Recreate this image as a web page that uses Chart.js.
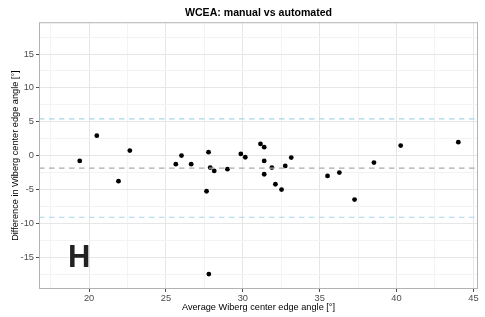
<!DOCTYPE html>
<html>
<head>
<meta charset="utf-8">
<script src="https://cdn.jsdelivr.net/npm/chart.js@4.4.1/dist/chart.umd.min.js"></script>
<style>
  html, body { margin: 0; padding: 0; background: #fff; }
  #wrap { width: 485px; height: 317px; }
</style>
</head>
<body>
<div id="wrap"><canvas id="chart"></canvas></div>
<script>
// average angle (x) and difference (y)
const avgAngle = [19.39, 20.5, 21.91, 22.65, 25.64, 26.01, 26.64, 27.77, 27.64, 27.79,
  27.88, 28.14, 29.0, 29.87, 30.16, 31.15, 31.39, 31.39, 31.39, 31.89,
  32.12, 32.52, 32.76, 33.15, 35.51, 36.28, 37.27, 38.53, 40.27, 44.02];
const diffAngle = [-0.78, 2.95, -3.78, 0.74, -1.27, 0.0, -1.27, 0.5, -5.26, -17.5,
  -1.77, -2.26, -2.0, 0.25, -0.24, 1.73, 1.24, -0.78, -2.75, -1.77,
  -4.23, -5.02, -1.52, -0.29, -3.0, -2.51, -6.5, -1.03, 1.48, 1.98];

const meanDiff = -1.86;
const upperLimit = 5.42;
const lowerLimit = -9.1;

const xLimits = [16.74, 45.3];
const yLimits = [-19.7, 19.7];
const xTicks = [17.5, 20, 22.5, 25, 27.5, 30, 32.5, 35, 37.5, 40, 42.5, 45];
const yTicks = [-17.5, -15, -12.5, -10, -7.5, -5, -2.5, 0, 2.5, 5, 7.5, 10, 12.5, 15, 17.5];

const panelLabel = "H";
const panelLabelPos = { x: 19.35, y: -15.1 };

const points = avgAngle.map((x, i) => ({ x: x, y: diffAngle[i] }));
const hline = (v) => [{ x: xLimits[0], y: v }, { x: xLimits[1], y: v }];

const isMajor = (v) => Math.abs(v % 5) < 1e-9;
const FONT = "'Liberation Sans', Arial, sans-serif";

const panelPlugin = {
  id: "panel",
  afterDatasetsDraw(chart) {
    const { ctx, chartArea: a, scales } = chart;
    ctx.save();
    ctx.strokeStyle = "#b3b3b3";
    ctx.lineWidth = 1;
    ctx.strokeRect(a.left + 0.5, a.top + 0.5, a.right - a.left - 1, a.bottom - a.top - 1);
    ctx.fillStyle = "#222222";
    ctx.font = "bold 31px " + FONT;
    ctx.textAlign = "center";
    ctx.textBaseline = "middle";
    ctx.fillText(panelLabel, scales.x.getPixelForValue(panelLabelPos.x),
      scales.y.getPixelForValue(panelLabelPos.y) + 1);
    ctx.restore();
  }
};

new Chart(document.getElementById("chart"), {
  type: "scatter",
  data: {
    datasets: [
      {
        type: "line", data: hline(upperLimit), borderColor: "#a9d6e8", borderWidth: 1.2,
        borderDash: [5.5, 4.5], pointRadius: 0, fill: false
      },
      {
        type: "line", data: hline(lowerLimit), borderColor: "#a9d6e8", borderWidth: 1.2,
        borderDash: [5.5, 4.5], pointRadius: 0, fill: false
      },
      {
        type: "line", data: hline(meanDiff), borderColor: "#aaaaaa", borderWidth: 1.2,
        borderDash: [5.5, 4.5], pointRadius: 0, fill: false
      },
      {
        data: points, backgroundColor: "#000", borderColor: "#000",
        pointRadius: 2.4, borderWidth: 0
      }
    ]
  },
  options: {
    responsive: true,
    maintainAspectRatio: false,
    animation: false,
    layout: { padding: { left: 0, right: 7, top: 0, bottom: 0 } },
    plugins: {
      legend: { display: false },
      tooltip: { enabled: false },
      title: {
        display: true,
        fullSize: false,
        text: "WCEA: manual vs automated",
        color: "#000",
        font: { family: FONT, size: 10.6, weight: "bold" },
        padding: { top: 6.5, bottom: 3 }
      }
    },
    scales: {
      x: {
        type: "linear",
        min: xLimits[0],
        max: xLimits[1],
        afterBuildTicks: (s) => { s.ticks = xTicks.map(v => ({ value: v })); },
        afterFit: (s) => { s.height = 28; },
        border: { display: false },
        grid: {
          color: (c) => isMajor(c.tick.value) ? "#e6e6e6" : "#f3f3f3",
          tickColor: (c) => isMajor(c.tick.value) ? "#4d4d4d" : "rgba(0,0,0,0)",
          tickLength: 3
        },
        ticks: {
          color: "#4d4d4d",
          padding: 1,
          maxRotation: 0,
          autoSkip: false,
          font: { family: FONT, size: 9.3 },
          callback: (v) => isMajor(v) ? String(v) : ""
        },
        title: {
          display: true,
          text: "Average Wiberg center edge angle [°]",
          color: "#000",
          font: { family: FONT, size: 9.2 },
          padding: { top: 0, bottom: 4 }
        }
      },
      y: {
        type: "linear",
        min: yLimits[0],
        max: yLimits[1],
        afterBuildTicks: (s) => { s.ticks = yTicks.map(v => ({ value: v })); },
        afterFit: (s) => { s.width = 39; },
        border: { display: false },
        grid: {
          color: (c) => isMajor(c.tick.value) ? "#e6e6e6" : "#f3f3f3",
          tickColor: (c) => isMajor(c.tick.value) ? "#4d4d4d" : "rgba(0,0,0,0)",
          tickLength: 3
        },
        ticks: {
          color: "#4d4d4d",
          padding: 2,
          autoSkip: false,
          font: { family: FONT, size: 9.3 },
          callback: (v) => isMajor(v) ? String(v) : ""
        },
        title: {
          display: true,
          text: "Difference in Wiberg center edge angle [°]",
          color: "#000",
          font: { family: FONT, size: 9.2 },
          padding: { top: 9.5, bottom: 0 }
        }
      }
    }
  },
  plugins: [panelPlugin]
});
</script>
</body>
</html>
